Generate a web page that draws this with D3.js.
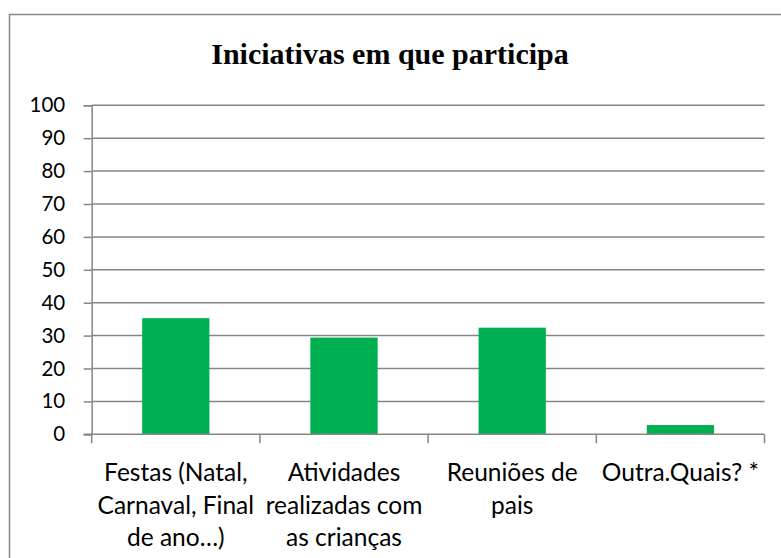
<!DOCTYPE html>
<html>
<head>
<meta charset="utf-8">
<script src="https://cdn.jsdelivr.net/npm/d3@7"></script>
<style>
  body { margin: 0; background: #fff; }
  svg { display: block; }
</style>
</head>
<body>
<script>
'use strict';

// chart data
let categories = ["Festas (Natal, Carnaval, Final de ano…)", "Atividades realizadas com as crianças", "Reuniões de pais", "Outra.Quais? *"];
let categoryLines = [
  ["Festas (Natal,", "Carnaval, Final", "de ano…)"],
  ["Atividades", "realizadas com", "as crianças"],
  ["Reuniões de", "pais"],
  ["Outra.Quais? *"]
];
let values = [35.3, 29.4, 32.4, 2.8];
let yTicks = [0, 10, 20, 30, 40, 50, 60, 70, 80, 90, 100];
let title = "Iniciativas em que participa";

let width = 781, height = 558;
let svg = d3.select('body').append('svg')
  .attr('width', width)
  .attr('height', height);

// outer chart border (cropped on right and bottom)
svg.append('rect')
  .attr('x', 9.5).attr('y', 14.5)
  .attr('width', 800).attr('height', 600)
  .attr('fill', '#fff')
  .attr('stroke', '#898989')
  .attr('stroke-width', 1.5);

// title
svg.append('text')
  .attr('x', 390)
  .attr('y', 64)
  .attr('text-anchor', 'middle')
  .style('font-family', '"Liberation Serif", "Times New Roman", serif')
  .style('font-weight', 'bold')
  .style('font-size', '30px')
  .text(title);

// scales
let x0 = 91.7, x1 = 764.5;
let xScale = d3.scaleBand()
  .domain(categories)
  .range([x0, x1])
  .paddingInner(0.6)
  .paddingOuter(0.3);

let yScale = d3.scaleLinear()
  .domain([0, 100])
  .range([434.3, 105.3]);

// gridlines
svg.append('g')
  .selectAll('line')
  .data(yTicks.filter(d => d > 0))
  .enter()
  .append('line')
    .attr('x1', x0).attr('x2', x1)
    .attr('y1', d => yScale(d)).attr('y2', d => yScale(d))
    .attr('stroke', '#868686')
    .attr('stroke-width', 1.5);

// bars
svg.append('g')
  .selectAll('rect')
  .data(values)
  .enter()
  .append('rect')
    .attr('x', (d, i) => xScale(categories[i]))
    .attr('y', d => yScale(d))
    .attr('width', xScale.bandwidth())
    .attr('height', d => yScale(0) - yScale(d))
    .attr('fill', '#00B050');

// y axis
let yAxis = d3.axisLeft(yScale).tickValues(yTicks).tickSize(8).tickPadding(18.5);
let yG = svg.append('g')
  .attr('transform', 'translate(' + x0 + ',0)')
  .call(yAxis);
yG.select('.domain').attr('stroke', '#868686').attr('stroke-width', 1.5);
yG.selectAll('.tick line').attr('stroke', '#868686').attr('stroke-width', 1.5);
yG.selectAll('.tick text')
  .style('font-family', 'Lato, "Open Sans", sans-serif')
  .style('font-size', '20.5px')
  .attr('fill', '#000');

// x axis line + ticks at band boundaries
let bounds = d3.range(categories.length + 1).map(i => x0 + i * (x1 - x0) / categories.length);
svg.append('line')
  .attr('x1', x0 - 8).attr('x2', x1)
  .attr('y1', yScale(0)).attr('y2', yScale(0))
  .attr('stroke', '#868686').attr('stroke-width', 1.5);
svg.append('g')
  .selectAll('line')
  .data(bounds)
  .enter()
  .append('line')
    .attr('x1', d => d).attr('x2', d => d)
    .attr('y1', yScale(0)).attr('y2', yScale(0) + 9)
    .attr('stroke', '#868686').attr('stroke-width', 1.5);

// category labels
let labels = svg.append('g')
  .selectAll('text')
  .data(categoryLines)
  .enter()
  .append('text')
    .attr('text-anchor', 'middle')
    .style('font-family', 'Lato, "Open Sans", sans-serif')
    .style('font-size', '24.5px')
    .attr('fill', '#000');

labels.each(function(lines, i) {
  let cx = xScale(categories[i]) + xScale.bandwidth() / 2;
  d3.select(this).selectAll('tspan')
    .data(lines)
    .enter()
    .append('tspan')
      .attr('x', cx)
      .attr('y', (d, j) => 481 + j * 32.5)
      .text(d => d);
});
</script>
</body>
</html>
